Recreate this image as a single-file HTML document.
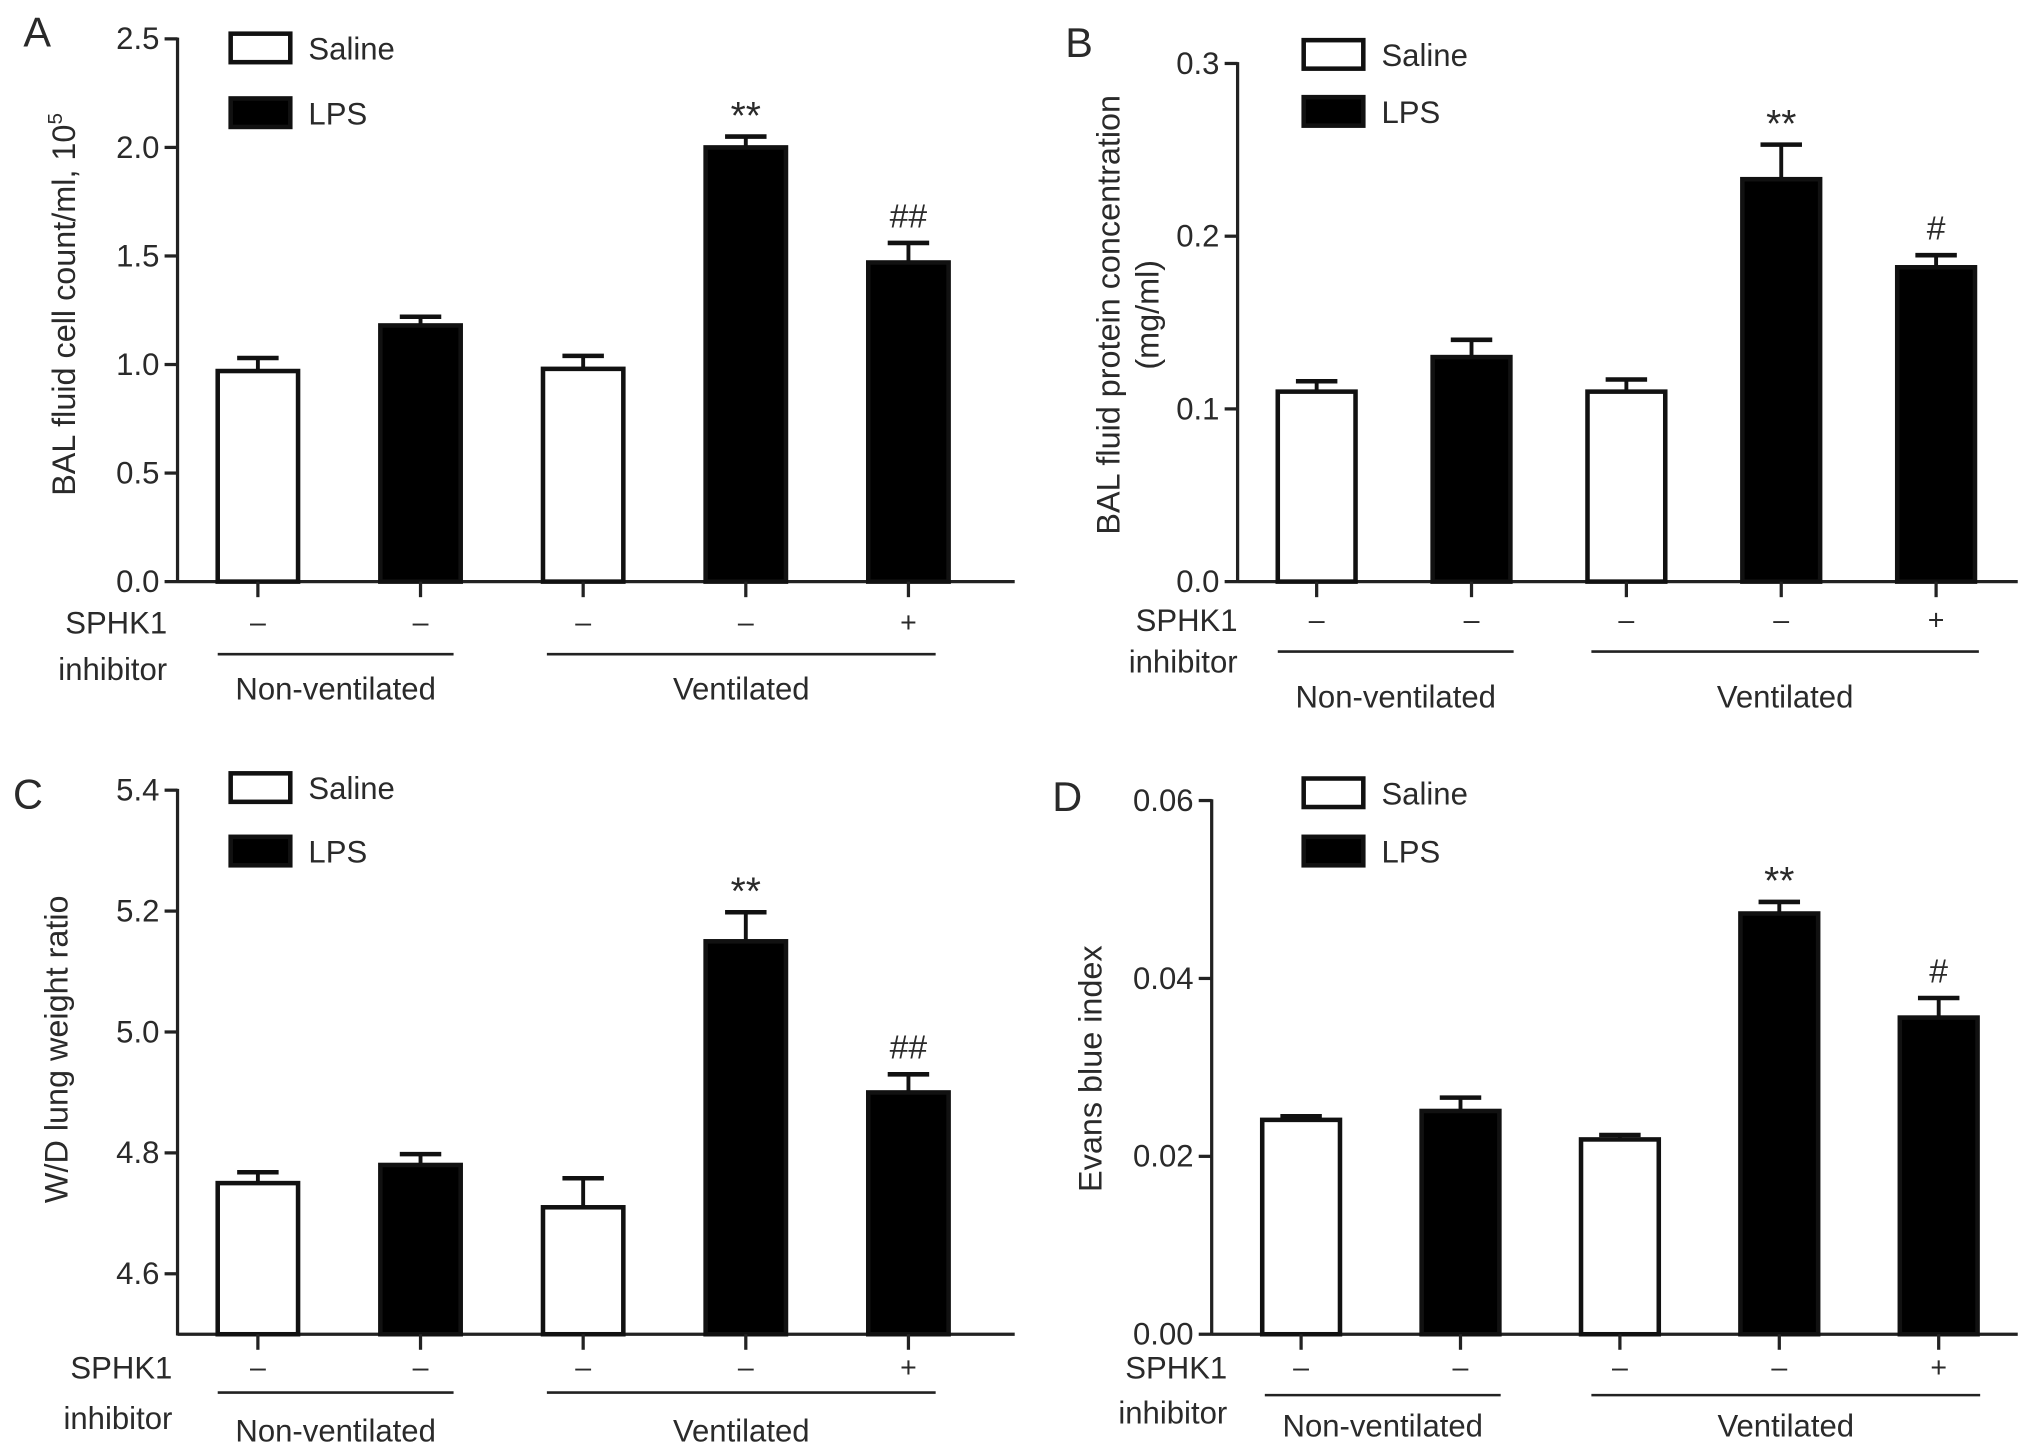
<!DOCTYPE html>
<html><head><meta charset="utf-8"><style>
html,body{margin:0;padding:0;background:#fff}
svg{display:block}
text{font-family:"Liberation Sans",sans-serif;fill:#2a2a2a}
</style></head><body>
<svg id="fig" width="2032" height="1456" viewBox="0 0 1568 1124" preserveAspectRatio="none" xmlns="http://www.w3.org/2000/svg"></svg>
<script>
const categories = ["Saline NV","LPS NV","Saline V","LPS V","LPS V + inhibitor"];
const fills = ["white","black","white","black","black"];
const signs = ["\u2013","\u2013","\u2013","\u2013","+"];
const valuesA = [0.97,1.18,0.98,2.00,1.47];
const errA = [0.06,0.04,0.06,0.05,0.09];
const marksA = ["","","","**","##"];
const ticksA = ["0.0","0.5","1.0","1.5","2.0","2.5"];
const valuesB = [0.110,0.130,0.110,0.233,0.182];
const errB = [0.006,0.010,0.007,0.020,0.007];
const marksB = ["","","","**","#"];
const ticksB = ["0.0","0.1","0.2","0.3"];
const valuesC = [4.75,4.78,4.71,5.15,4.90];
const errC = [0.018,0.018,0.048,0.048,0.03];
const marksC = ["","","","**","##"];
const ticksC = ["4.6","4.8","5.0","5.2","5.4"];
const valuesD = [0.0241,0.0251,0.0219,0.0473,0.0356];
const errD = [0.0004,0.0015,0.0005,0.0013,0.0022];
const marksD = ["","","","**","#"];
const ticksD = ["0.00","0.02","0.04","0.06"];

const NS="http://www.w3.org/2000/svg";
const svg=document.getElementById('fig');
function el(tag,attrs,parent){const e=document.createElementNS(NS,tag);for(const k in attrs)e.setAttribute(k,attrs[k]);(parent||svg).appendChild(e);return e;}
function txt(s,x,y,size,anchor,parent){const t=el('text',{x:x,y:y,'font-size':size,'text-anchor':anchor||'start'},parent);t.textContent=s;return t;}

function panel(p){
  const g=el('g',{});
  
  
  const ys=v=>p.y0+(v-p.vmin)/(p.vmax-p.vmin)*(p.y1-p.y0);
  const L=txt(p.letter,p.lx,p.ly,32,'start',g);
  
  
  const ax=el('line',{x1:p.ax,y1:p.y0+1,x2:p.ax,y2:p.y1-1,stroke:'#222','stroke-width':2.5},g);
  
  
  p.ticks.forEach(t=>{const y=ys(parseFloat(t));
    el('line',{x1:p.ax-10,y1:y,x2:p.ax,y2:y,stroke:'#222','stroke-width':2.5},g);
    const tl=txt(t,p.ax-14,y+8,24,'end',g);
    
    
  });
  const yt=el('text',{x:0,y:0,'font-size':25,'text-anchor':'middle',transform:`translate(${p.tx},${p.ty}) rotate(-90)`},g);
  
  
  p.title.forEach((line,i)=>{const ts=el('tspan',{x:0,dy:i===0?0:30},yt);ts.innerHTML=line;});
  const xa=el('line',{x1:p.ax,y1:p.y0,x2:p.xend,y2:p.y0,stroke:'#222','stroke-width':2.5},g);
  
  
  p.vals.forEach((v,i)=>{const cx=p.cx0+i*p.dx;const yt2=ys(v);const ye=ys(v+p.err[i]);
    el('line',{x1:cx,y1:yt2,x2:cx,y2:ye,stroke:'#111','stroke-width':3},g);
    el('line',{x1:cx-16,y1:ye,x2:cx+16,y2:ye,stroke:'#111','stroke-width':3.5},g);
    const r=el('rect',{x:cx-p.bw/2,y:yt2,width:p.bw,height:p.y0-yt2,fill:fills[i],stroke:'#111','stroke-width':3.5},g);
    
    
    el('line',{x1:cx,y1:p.y0,x2:cx,y2:p.y0+12,stroke:'#222','stroke-width':2.5},g);
    if(p.marks[i]){const isStar=p.marks[i].indexOf('*')>=0;
      const m=txt(p.marks[i],cx,ye-(isStar?6:12),isStar?30:26,'middle',g);
      
      }
    const s=txt(signs[i],cx,p.sy+7,22,'middle',g);
    
    
  });
  const s1=txt('SPHK1',p.slx,p.sy+8,24,'end',g);
  
  
  const s2=txt('inhibitor',p.slx,p.iy,24,'end',g);
  
  
  el('line',{x1:p.g1[0],y1:p.gy,x2:p.g1[1],y2:p.gy,stroke:'#222','stroke-width':2},g);
  el('line',{x1:p.g2[0],y1:p.gy,x2:p.g2[1],y2:p.gy,stroke:'#222','stroke-width':2},g);
  const n1=txt('Non-ventilated',(p.g1[0]+p.g1[1])/2,p.gly,24,'middle',g);
  
  
  const n2=txt('Ventilated',(p.g2[0]+p.g2[1])/2,p.gly,24,'middle',g);
  
  
  [['Saline','white',p.leg[1]],['LPS','black',p.leg[2]]].forEach(([n,f,y])=>{
    const lr=el('rect',{x:p.leg[0],y:y,width:46,height:22,fill:f,stroke:'#111','stroke-width':3.5},g);
    
    
    const lt=txt(n,p.leg[0]+60,y+20,24,'start',g);
    
    
  });
}
panel({letter:'A',lx:18,ly:36,ax:137,y0:449,y1:30,vmin:0,vmax:2.5,ticks:ticksA,vals:valuesA,err:errA,marks:marksA,
  title:['BAL fluid cell count/ml, 10<tspan font-size="16" dy="-10">5</tspan>'],tx:58,ty:235,xend:783,cx0:199,dx:125.5,bw:62,
  sy:481,slx:129,iy:525,gy:505,g1:[168,350],g2:[422,722],gly:540,leg:[178,26,76]});
panel({letter:'B',lx:822,ly:44,ax:955,y0:449,y1:49,vmin:0,vmax:0.3,ticks:ticksB,vals:valuesB,err:errB,marks:marksB,
  title:['BAL fluid protein concentration','(mg/ml)'],tx:864,ty:243,xend:1557,cx0:1016,dx:119.5,bw:60,
  sy:479,slx:955,iy:519,gy:503,g1:[986,1168],g2:[1228,1527],gly:546,leg:[1006,31,75]});
panel({letter:'C',lx:10,ly:624,ax:137,y0:1030,y1:610,vmin:4.5,vmax:5.4,ticks:ticksC,vals:valuesC,err:errC,marks:marksC,
  title:['W/D lung weight ratio'],tx:52,ty:810,xend:783,cx0:199,dx:125.5,bw:62,
  sy:1056,slx:133,iy:1103,gy:1075,g1:[168,350],g2:[422,722],gly:1113,leg:[178,597,646]});
panel({letter:'D',lx:812,ly:626,ax:935,y0:1030,y1:618,vmin:0,vmax:0.06,ticks:ticksD,vals:valuesD,err:errD,marks:marksD,
  title:['Evans blue index'],tx:850,ty:825,xend:1557,cx0:1004,dx:123,bw:60,
  sy:1056,slx:947,iy:1099,gy:1077,g1:[976,1158],g2:[1228,1528],gly:1109,leg:[1006,601,646]});
</script>
</body></html>
